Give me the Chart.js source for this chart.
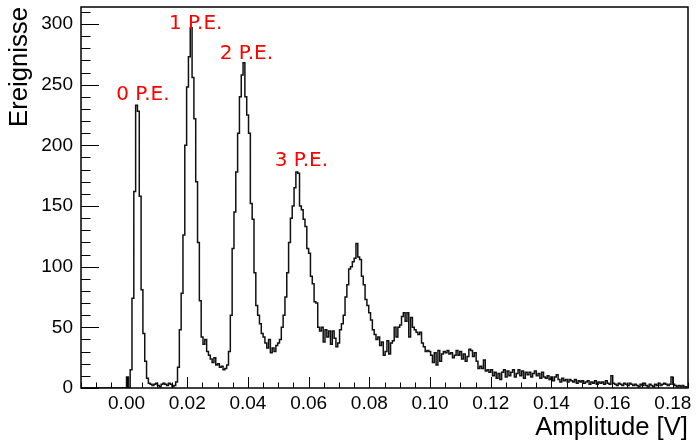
<!DOCTYPE html>
<html>
<head>
<meta charset="utf-8">
<script src="https://cdn.jsdelivr.net/npm/chart.js@4.4.1/dist/chart.umd.min.js"></script>
<style>
html, body { margin: 0; padding: 0; background: #fff; }
</style>
</head>
<body>
<canvas id="myChart" width="696" height="441"></canvas>
<script>
// histogram: left edge of first bin and bin width (V)
const binStart = 0.0;
const binWidth = 0.0006;
const counts = [
    9, 0, 15, 74, 162, 233, 228, 158, 81, 45,
    22, 8, 4, 3, 2, 3, 4, 2, 1, 3,
    4, 3, 2, 4, 3, 1, 2, 5, 17, 48,
    78, 126, 200, 248, 273, 297, 256, 222, 170, 120,
    72, 42, 36, 40, 30, 27, 24, 21, 25, 19,
    20, 17, 18, 15, 16, 19, 30, 60, 115, 145,
    178, 210, 240, 258, 268, 240, 225, 210, 152, 139,
    95, 68, 60, 53, 45, 42, 37, 33, 40, 29,
    33, 30, 35, 37, 40, 50, 60, 75, 95, 120,
    140, 150, 165, 178, 177, 150, 147, 139, 133, 115,
    111, 92, 86, 71, 70, 50, 47, 50, 38, 48,
    42, 47, 36, 47, 41, 34, 37, 48, 53, 60,
    75, 85, 98, 100, 104, 107, 119, 108, 106, 92,
    85, 73, 68, 62, 56, 48, 44, 40, 42, 35,
    38, 27, 30, 39, 28, 37, 39, 50, 42, 50,
    52, 59, 62, 55, 62, 42, 58, 50, 48, 46,
    44, 46, 37, 34, 30, 31, 30, 27, 21, 29,
    19, 31, 22, 28, 30, 29, 31, 28, 29, 25,
    27, 31, 27, 30, 24, 28, 22, 26, 32, 31,
    26, 29, 22, 16, 18, 16, 23, 14, 15, 13,
    15, 10, 13, 8, 12, 7, 13, 15, 9, 14,
    10, 13, 15, 9, 12, 15, 10, 14, 8, 13,
    11, 13, 9, 12, 14, 10, 12, 8, 13, 9,
    8, 10, 7, 9, 6, 9, 11, 7, 5, 8,
    6, 7, 5, 7, 6, 5, 7, 4, 6, 5,
    6, 4, 5, 6, 3, 5, 4, 6, 3, 5,
    4, 5, 3, 6, 4, 3, 10, 4, 3, 2,
    4, 3, 2, 4, 3, 2, 4, 3, 2, 3,
    2, 1, 3, 2, 4, 2, 1, 3, 2, 1,
    3, 2, 4, 2, 3, 4, 3, 2, 3, 9,
    3, 2, 1, 2, 1, 2, 1, 1
];

const xTicks = [0.00, 0.02, 0.04, 0.06, 0.08, 0.10, 0.12, 0.14, 0.16, 0.18];
const yTicks = [0, 50, 100, 150, 200, 250, 300];

const peakLabels = ['0 P.E.', '1 P.E.', '2 P.E.', '3 P.E.'];
const peakLabelX = [-0.0034, 0.0140, 0.0307, 0.0488];
const peakLabelY = [237, 296, 271, 183];

const xMin = -0.015, xMax = 0.185;
const yMin = 0, yMax = 314;

// step outline points at the bin edges
var points = [{x: xMin, y: 0}];
for (let i = 0; i < counts.length; i++) {
    points.push({x: binStart + i * binWidth, y: counts[i]});
}
points.push({x: binStart + counts.length * binWidth, y: counts[counts.length - 1]});

// ROOT style frame with inward ticks, plus the red peak labels
const frameTicks = {
    id: 'frameTicks',
    afterDatasetsDraw(chart) {
        const {ctx, chartArea: a, scales: {x, y}} = chart;
        ctx.save();
        ctx.strokeStyle = '#000';
        ctx.lineWidth = 1;
        ctx.beginPath();
        // x ticks every 0.005, long every 0.02
        for (let i = -3; i <= 37; i++) {
            const px = Math.round(x.getPixelForValue(i * 0.005)) + 0.5;
            const len = (i % 4 === 0) ? 11 : 5.5;
            ctx.moveTo(px, a.bottom);
            ctx.lineTo(px, a.bottom - len);
        }
        // y ticks every 10, long every 50
        for (let i = 0; i <= 31; i++) {
            const py = Math.round(y.getPixelForValue(i * 10)) + 0.5;
            const len = (i % 5 === 0) ? 18 : 9.5;
            ctx.moveTo(a.left, py);
            ctx.lineTo(a.left + len, py);
        }
        ctx.stroke();
        ctx.lineWidth = 1.5;
        ctx.strokeRect(a.left, a.top, a.right - a.left, a.bottom - a.top);

        ctx.fillStyle = '#ff0000';
        ctx.font = '20px "DejaVu Sans"';
        ctx.textAlign = 'left';
        ctx.textBaseline = 'alphabetic';
        for (let i = 0; i < peakLabels.length; i++) {
            ctx.fillText(peakLabels[i], x.getPixelForValue(peakLabelX[i]), y.getPixelForValue(peakLabelY[i]));
        }
        ctx.restore();
    }
};

const ctx = document.getElementById('myChart');
const myChart = new Chart(ctx, {
    type: 'scatter',
    data: {
        datasets: [{
            data: points,
            showLine: true,
            stepped: 'before',
            borderColor: '#111',
            borderWidth: 1.5,
            pointRadius: 0,
            fill: false,
        }]
    },
    options: {
        responsive: false,
        animation: false,
        layout: {
            padding: {top: 7, right: 8, left: 0, bottom: 0}
        },
        plugins: {
            legend: {display: false},
            tooltip: {enabled: false},
        },
        scales: {
            x: {
                type: 'linear',
                min: xMin,
                max: xMax,
                grid: {display: false, drawTicks: false},
                border: {display: false},
                afterBuildTicks: (s) => { s.ticks = xTicks.map(v => ({value: v})); },
                afterFit: (s) => {
                    s.height = 53;
                    s.paddingLeft = 0;
                    s.paddingRight = 0;
                },
                ticks: {
                    color: '#000',
                    font: {family: 'Liberation Sans', size: 19},
                    padding: 4,
                    maxRotation: 0,
                    autoSkip: false,
                    callback: (v) => Number(v).toFixed(2),
                },
                title: {
                    display: true,
                    text: 'Amplitude [V]',
                    align: 'end',
                    color: '#000',
                    font: {family: 'Liberation Sans', size: 25.7, lineHeight: 1},
                    padding: {top: 0, bottom: 0.5},
                }
            },
            y: {
                min: yMin,
                max: yMax,
                grid: {display: false, drawTicks: false},
                border: {display: false},
                afterBuildTicks: (s) => { s.ticks = yTicks.map(v => ({value: v})); },
                afterFit: (s) => {
                    s.width = 81;
                    s.paddingTop = 0;
                    s.paddingBottom = 0;
                },
                ticks: {
                    color: '#000',
                    font: {family: 'Liberation Sans', size: 19},
                    padding: 8,
                },
                title: {
                    display: true,
                    text: 'Ereignisse',
                    align: 'end',
                    color: '#000',
                    font: {family: 'Liberation Sans', size: 25.7, lineHeight: 1.2},
                    padding: {top: 4.5, bottom: 0},
                }
            }
        }
    },
    plugins: [frameTicks]
});
</script>
</body>
</html>
